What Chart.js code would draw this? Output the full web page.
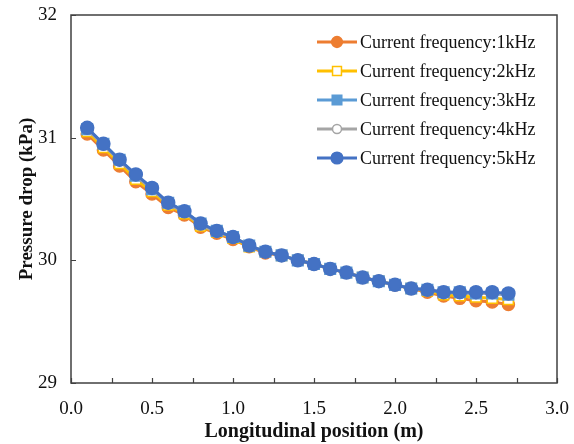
<!DOCTYPE html>
<html>
<head>
<meta charset="utf-8">
<script src="https://cdn.jsdelivr.net/npm/chart.js@4.4.1/dist/chart.umd.min.js"></script>
<style>
  html, body { margin: 0; padding: 0; background: #ffffff; }
  #wrap { width: 574px; height: 444px; position: relative; }
</style>
</head>
<body>
<div id="wrap"><canvas id="chart" width="574" height="444"></canvas></div>
<script>
const positions = [0.1, 0.2, 0.3, 0.4, 0.5, 0.6, 0.7, 0.8, 0.9, 1.0, 1.1, 1.2, 1.3, 1.4,
  1.5, 1.6, 1.7, 1.8, 1.9, 2.0, 2.1, 2.2, 2.3, 2.4, 2.5, 2.6, 2.7];

const freq1k = [31.03, 30.90, 30.77, 30.64, 30.54, 30.43, 30.37, 30.27, 30.22, 30.17, 30.11, 30.06, 30.04, 30.00,
  29.97, 29.93, 29.90, 29.86, 29.83, 29.80, 29.77, 29.74, 29.71, 29.69, 29.67, 29.66, 29.64];
const freq2k = [31.05, 30.92, 30.79, 30.66, 30.56, 30.45, 30.38, 30.28, 30.23, 30.18, 30.11, 30.07, 30.04, 30.00,
  29.97, 29.93, 29.90, 29.86, 29.83, 29.80, 29.77, 29.75, 29.72, 29.71, 29.70, 29.69, 29.68];
const freq3k = [31.07, 30.95, 30.82, 30.69, 30.58, 30.47, 30.40, 30.30, 30.24, 30.19, 30.12, 30.07, 30.04, 30.00,
  29.97, 29.93, 29.90, 29.86, 29.83, 29.80, 29.77, 29.76, 29.74, 29.74, 29.73, 29.73, 29.72];
const freq4k = [31.07, 30.94, 30.81, 30.69, 30.58, 30.46, 30.39, 30.29, 30.23, 30.19, 30.12, 30.07, 30.04, 30.00,
  29.97, 29.93, 29.90, 29.86, 29.83, 29.80, 29.77, 29.76, 29.74, 29.73, 29.73, 29.73, 29.72];
const freq5k = [31.08, 30.95, 30.82, 30.70, 30.59, 30.47, 30.40, 30.30, 30.24, 30.19, 30.12, 30.07, 30.04, 30.00,
  29.97, 29.93, 29.90, 29.86, 29.83, 29.80, 29.77, 29.76, 29.74, 29.74, 29.74, 29.74, 29.73];

const seriesLabels = [
  "Current frequency:1kHz",
  "Current frequency:2kHz",
  "Current frequency:3kHz",
  "Current frequency:4kHz",
  "Current frequency:5kHz",
];

const xRange = [0, 3];
const xStep = 0.25;
const xLabelStep = 0.5;
const yRange = [29, 32];
const yStep = 1;

const FONT = '"Liberation Serif", "Times New Roman", serif';
const TEXT = "#111111";
const FRAME = "#404040";

const styles = [
  { color: "#ED7D31", fill: "#ED7D31", pointStyle: "circle", radius: 6 },
  { color: "#FFC000", fill: "#FFFFFF", pointStyle: "rect", radius: 7 },
  { color: "#5B9BD5", fill: "#5B9BD5", pointStyle: "rect", radius: 7.5 },
  { color: "#A5A5A5", fill: "#FFFFFF", pointStyle: "circle", radius: 5 },
  { color: "#4472C4", fill: "#4472C4", pointStyle: "circle", radius: 6.5 },
];

const allSeries = [freq1k, freq2k, freq3k, freq4k, freq5k];

// frame + inward tick marks
const framePlugin = {
  id: "frame",
  afterDraw(chart) {
    const { ctx, chartArea: a, scales } = chart;
    ctx.save();
    ctx.strokeStyle = FRAME;
    ctx.lineWidth = 1.5;
    ctx.strokeRect(a.left, a.top, a.right - a.left, a.bottom - a.top);
    ctx.lineWidth = 1.2;
    ctx.beginPath();
    scales.x.ticks.forEach((t) => {
      const px = Math.round(scales.x.getPixelForValue(t.value)) + 0.5;
      ctx.moveTo(px, a.bottom);
      ctx.lineTo(px, a.bottom - 5);
    });
    scales.y.ticks.forEach((t) => {
      const py = Math.round(scales.y.getPixelForValue(t.value)) + 0.5;
      ctx.moveTo(a.left, py);
      ctx.lineTo(a.left + 5, py);
    });
    ctx.stroke();
    ctx.restore();
  },
};

// legend with line + marker, drawn inside the plot
const lineLegendPlugin = {
  id: "lineLegend",
  afterDraw(chart) {
    const { ctx } = chart;
    ctx.save();
    ctx.font = `18px ${FONT}`;
    ctx.textBaseline = "middle";
    ctx.textAlign = "left";
    seriesLabels.forEach((label, i) => {
      const s = styles[i];
      const y = 42 + i * 29;
      ctx.strokeStyle = s.color;
      ctx.lineWidth = 3;
      ctx.beginPath();
      ctx.moveTo(317, y);
      ctx.lineTo(357, y);
      ctx.stroke();
      ctx.fillStyle = s.fill;
      ctx.lineWidth = 1.5;
      Chart.helpers.drawPoint(ctx, { pointStyle: s.pointStyle, radius: s.radius * 0.9, rotation: 0, borderWidth: 1.5 }, 337, y);
      ctx.fillStyle = TEXT;
      ctx.fillText(label, 360, y + 1);
    });
    ctx.restore();
  },
};

const datasets = allSeries.map((values, i) => ({
  label: seriesLabels[i],
  data: positions.map((x, j) => ({ x, y: values[j] })),
  borderColor: styles[i].color,
  backgroundColor: styles[i].fill,
  borderWidth: 3,
  pointStyle: styles[i].pointStyle,
  pointRadius: styles[i].radius,
  pointBackgroundColor: styles[i].fill,
  pointBorderColor: styles[i].color,
  pointBorderWidth: 1.5,
  tension: 0,
  order: allSeries.length - i,
}));

new Chart(document.getElementById("chart"), {
  type: "line",
  plugins: [framePlugin, lineLegendPlugin],
  data: { datasets },
  options: {
    responsive: false,
    animation: false,
    devicePixelRatio: 1,
    layout: { padding: { top: 15, right: 17, bottom: 0, left: 0 } },
    plugins: {
      legend: { display: false },
      tooltip: { enabled: false },
    },
    scales: {
      x: {
        type: "linear",
        min: xRange[0],
        max: xRange[1],
        grid: { display: false, drawTicks: false },
        border: { display: false },
        afterFit(scale) {
          scale.height = 61;
          scale.paddingLeft = 0;
          scale.paddingRight = 0;
        },
        ticks: {
          stepSize: xStep,
          autoSkip: false,
          maxRotation: 0,
          padding: 15,
          color: TEXT,
          font: { family: FONT, size: 19 },
          callback(value) {
            const r = value / xLabelStep;
            return Math.abs(r - Math.round(r)) < 1e-6 ? value.toFixed(1) : "";
          },
        },
        title: {
          display: true,
          text: "Longitudinal position (m)",
          color: TEXT,
          font: { family: FONT, size: 20, weight: "bold" },
          padding: { top: 5, bottom: 0 },
        },
      },
      y: {
        min: yRange[0],
        max: yRange[1],
        grid: { display: false, drawTicks: false },
        border: { display: false },
        afterFit(scale) {
          scale.width = 71;
          scale.paddingTop = 0;
          scale.paddingBottom = 0;
        },
        ticks: {
          stepSize: yStep,
          padding: 14,
          color: TEXT,
          font: { family: FONT, size: 19 },
        },
        title: {
          display: true,
          text: "Pressure drop (kPa)",
          color: TEXT,
          font: { family: FONT, size: 19, weight: "bold" },
          padding: { top: 16, bottom: 0 },
        },
      },
    },
  },
});
</script>
</body>
</html>
